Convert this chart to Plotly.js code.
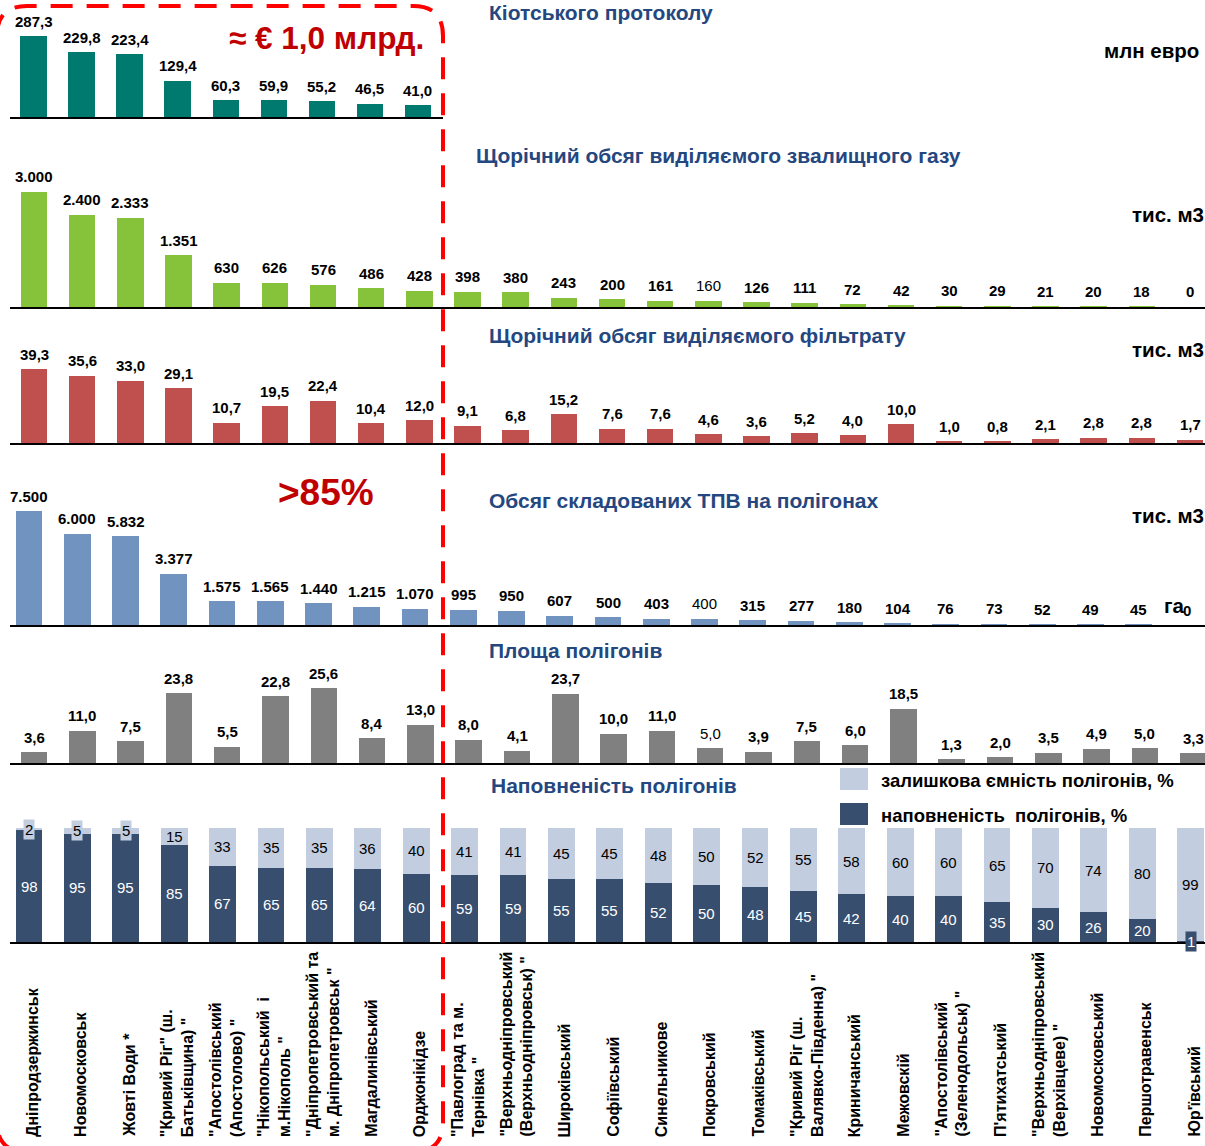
<!DOCTYPE html>
<html><head><meta charset="utf-8">
<script src="https://cdn.plot.ly/plotly-3.0.1.min.js"></script>
<style>html,body{margin:0;padding:0;background:#fff}#chart{width:1205px;height:1146px}</style>
</head><body><div id="chart"></div>
<script>
// ---------- DATA ----------
const categories = [
  'Дніпродзержинськ', 'Новомосковськ', 'Жовті Води *',
  '"Кривий Ріг" (ш.<br>Батьківщина) "', '"Апостолівський<br>(Апостолово) "',
  '"Нікопольський  і<br>м.Нікополь "', '"Дніпропетровський та<br>м. Дніпропетровськ "',
  'Магдалинівський', 'Орджонікідзе', '"Павлоград та м.<br>Тернівка "',
  '"Верхньодніпровський<br>(Верхньодніпровськ) "', 'Широківський', 'Софіївський',
  'Синельникове', 'Покровський', 'Томаківський', '"Кривий Ріг (ш.<br>Валявко-Південна) "',
  'Криничанський', 'Межовскій', '"Апостолівський<br>(Зеленодольськ) "', "П'ятихатський",
  '"Верхньодніпровський<br>(Верхівцеве) "', 'Новомосковський', 'Першотравенськ', "Юр'ївський"
];
const kyotoValues = [287.3, 229.8, 223.4, 129.4, 60.3, 59.9, 55.2, 46.5, 41.0];
const gasValues = [3000, 2400, 2333, 1351, 630, 626, 576, 486, 428, 398, 380, 243, 200, 161, 160, 126, 111, 72, 42, 30, 29, 21, 20, 18, 0];
const leachateValues = [39.3, 35.6, 33.0, 29.1, 10.7, 19.5, 22.4, 10.4, 12.0, 9.1, 6.8, 15.2, 7.6, 7.6, 4.6, 3.6, 5.2, 4.0, 10.0, 1.0, 0.8, 2.1, 2.8, 2.8, 1.7];
const wasteValues = [7500, 6000, 5832, 3377, 1575, 1565, 1440, 1215, 1070, 995, 950, 607, 500, 403, 400, 315, 277, 180, 104, 76, 73, 52, 49, 45, 0];
const areaValues = [3.6, 11.0, 7.5, 23.8, 5.5, 22.8, 25.6, 8.4, 13.0, 8.0, 4.1, 23.7, 10.0, 11.0, 5.0, 3.9, 7.5, 6.0, 18.5, 1.3, 2.0, 3.5, 4.9, 5.0, 3.3];
const filledPct = [98, 95, 95, 85, 67, 65, 65, 64, 60, 59, 59, 55, 55, 52, 50, 48, 45, 42, 40, 40, 35, 30, 26, 20, 1];
const remainingPct = [2, 5, 5, 15, 33, 35, 35, 36, 40, 41, 41, 45, 45, 48, 50, 52, 55, 58, 60, 60, 65, 70, 74, 80, 99];
const panelTitles = ['Кіотського протоколу', 'Щорічний обсяг виділяємого звалищного газу',
  'Щорічний обсяг виділяємого фільтрату', 'Обсяг складованих ТПВ на полігонах',
  'Площа полігонів', 'Наповненість полігонів'];
const unitLabels = ['млн евро', 'тис. м3', 'тис. м3', 'тис. м3', 'га'];
const seriesRemaining = 'залишкова ємність полігонів, %';
const seriesFilled = 'наповненість  полігонів, %';
const calloutMoney = '≈ € 1,0 млрд.';
const calloutShare = '>85%';

// ---------- LAYOUT HELPERS ----------
const W = 1205, H = 1146;
const px = x => x / W, py = y => 1 - y / H;
const FONT = '"Liberation Sans", Arial, sans-serif';
const fmtDec = v => v.toFixed(1).replace('.', ',');
const fmtTh = v => String(Math.round(v)).replace(/\B(?=(\d{3})+(?!\d))/g, '.');

const panels = [
  {vals: kyotoValues, color: '#007A6E', fmt: fmtDec, base: 117, refTop: 36, top: 8, c0: 33.5, s: 48.06, x0: 10, x1: 443, regular: []},
  {vals: gasValues, color: '#86C23A', fmt: fmtTh, base: 307, refTop: 192, top: 140, c0: 34, s: 48.17, x0: 10, x1: 1205, regular: [14]},
  {vals: leachateValues, color: '#C0504D', fmt: fmtDec, base: 443, refTop: 369, top: 320, c0: 34, s: 48.17, x0: 10, x1: 1205, regular: []},
  {vals: wasteValues, color: '#7093C0', fmt: fmtTh, base: 625, refTop: 511, top: 470, c0: 29, s: 48.25, x0: 10, x1: 1205, regular: [14]},
  {vals: areaValues, color: '#808080', fmt: fmtDec, base: 763, refTop: 688, top: 640, c0: 34, s: 48.3, x0: 10, x1: 1205, regular: [14]},
];
const pct = {base: 942, refTop: 828, top: 770, c0: 29, s: 48.4, x0: 10, x1: 1205};

const data = [];
const annotations = [];
const layout = {
  width: W, height: H, margin: {l: 0, r: 0, t: 0, b: 0},
  paper_bgcolor: '#fff', plot_bgcolor: 'rgba(0,0,0,0)',
  bargap: 0.45, barmode: 'stack', showlegend: false,
  font: {family: FONT, color: '#000'},
  annotations: annotations, shapes: []
};

function axisPair(k, p, maxVal) {
  const xn = k === 1 ? 'xaxis' : 'xaxis' + k;
  const yn = k === 1 ? 'yaxis' : 'yaxis' + k;
  layout[xn] = {
    type: 'category', domain: [px(p.x0), px(p.x1)],
    range: [(p.x0 - p.c0) / p.s, (p.x1 - p.c0) / p.s],
    anchor: k === 1 ? 'y' : 'y' + k,
    showline: true, linecolor: '#000', linewidth: 2, ticks: '',
    showticklabels: false, showgrid: false, zeroline: false, fixedrange: true
  };
  layout[yn] = {
    domain: [py(p.base), py(p.top)],
    range: [0, maxVal * (p.base - p.top) / (p.base - p.refTop)],
    anchor: k === 1 ? 'x' : 'x' + k,
    visible: false, showgrid: false, zeroline: false, fixedrange: true
  };
}

panels.forEach((p, j) => {
  const k = j + 1;
  const maxVal = Math.max(...p.vals);
  axisPair(k, p, maxVal);
  const xs = categories.slice(0, p.vals.length);
  data.push({
    type: 'bar', x: xs, y: p.vals, name: panelTitles[j],
    xaxis: k === 1 ? 'x' : 'x' + k, yaxis: k === 1 ? 'y' : 'y' + k,
    marker: {color: p.color}, hoverinfo: 'x+y'
  });
  p.vals.forEach((v, i) => {
    const t = p.fmt(v);
    annotations.push({
      xref: k === 1 ? 'x' : 'x' + k, yref: k === 1 ? 'y' : 'y' + k,
      x: xs[i], y: v, text: p.regular.includes(i) ? t : '<b>' + t + '</b>',
      showarrow: false, yanchor: 'middle', yshift: 15,
      font: {size: 15, color: '#000', family: FONT}
    });
  });
});

// Percentage panel
axisPair(6, pct, 100);
data.push({
  type: 'bar', x: categories, y: filledPct, name: seriesFilled,
  xaxis: 'x6', yaxis: 'y6', marker: {color: '#374E6F'}, hoverinfo: 'x+y'
});
data.push({
  type: 'bar', x: categories, y: remainingPct, name: seriesRemaining,
  xaxis: 'x6', yaxis: 'y6', marker: {color: '#C3CDE0'}, hoverinfo: 'x+y'
});
categories.forEach((c, i) => {
  const f = filledPct[i], r = remainingPct[i];
  annotations.push({
    xref: 'x6', yref: 'y6', x: c, y: f / 2, text: String(f), showarrow: false,
    yanchor: 'middle', font: {size: 15, color: '#fff', family: FONT},
    bgcolor: f < 10 ? '#374E6F' : 'rgba(0,0,0,0)', borderpad: 1
  });
  annotations.push({
    xref: 'x6', yref: 'y6', x: c, y: f + r / 2, text: String(r), showarrow: false,
    yanchor: 'middle', font: {size: 15, color: '#000', family: FONT},
    bgcolor: r < 10 ? '#C3CDE0' : 'rgba(0,0,0,0)', borderpad: 1
  });
  // category label (rotated)
  annotations.push({
    xref: 'x6', yref: 'paper', x: c, y: py(1139), xshift: 3,
    text: '<b>' + c + '</b>', textangle: -90, align: 'left',
    xanchor: 'center', yanchor: 'bottom', showarrow: false,
    font: {size: 16, color: '#000', family: FONT}
  });
});

// Titles & units
const titleColor = '#25477F';
const titlePos = [[487, 12], [474, 155], [487, 335], [487, 500], [487, 650], [489, 785]];
panelTitles.forEach((t, i) => {
  annotations.push({xref: 'paper', yref: 'paper', x: px(titlePos[i][0]), y: py(titlePos[i][1]),
    xanchor: 'left', yanchor: 'middle', showarrow: false, text: '<b>' + t + '</b>',
    font: {size: 21, color: titleColor, family: FONT}});
});
const unitPos = [[1201, 50, 'right'], [1206, 215, 'right'], [1206, 350, 'right'], [1206, 515, 'right'], [1162, 605, 'left']];
unitLabels.forEach((u, i) => {
  annotations.push({xref: 'paper', yref: 'paper', x: px(unitPos[i][0]), y: py(unitPos[i][1]),
    xanchor: unitPos[i][2], yanchor: 'middle', showarrow: false, text: '<b>' + u + '</b>',
    font: {size: 20.5, color: '#000', family: FONT}});
});

// Callouts
annotations.push({xref: 'paper', yref: 'paper', x: px(326), y: py(38), xanchor: 'center', yanchor: 'middle',
  showarrow: false, text: '<b>' + calloutMoney + '</b>', font: {size: 31.5, color: '#C00000', family: FONT}});
annotations.push({xref: 'paper', yref: 'paper', x: px(326), y: py(492), xanchor: 'center', yanchor: 'middle',
  showarrow: false, text: '<b>' + calloutShare + '</b>', font: {size: 37, color: '#C00000', family: FONT}});

// Legend
const legendItems = [[seriesRemaining, '#C3CDE0', 779], [seriesFilled, '#374E6F', 814]];
legendItems.forEach(([name, col, yc]) => {
  layout.shapes.push({type: 'rect', xref: 'paper', yref: 'paper', x0: px(840), x1: px(868),
    y0: py(yc - 11), y1: py(yc + 11), fillcolor: col, line: {width: 0}});
  annotations.push({xref: 'paper', yref: 'paper', x: px(879), y: py(yc + 1), xanchor: 'left', yanchor: 'middle',
    showarrow: false, text: '<b>' + name + '</b>', font: {size: 18.5, color: '#000', family: FONT}});
});

// Red dashed rounded frame
(function () {
  const L = -3, T = 6, R = 443, B = 1152, r = 30;
  const P = (x, y) => px(x).toFixed(5) + ',' + py(y).toFixed(5);
  const path = 'M ' + P(L, T + r) + ' Q ' + P(L, T) + ' ' + P(L + r, T) + ' L ' + P(R - r, T) +
    ' Q ' + P(R, T) + ' ' + P(R, T + r) + ' L ' + P(R, B - r) + ' Q ' + P(R, B) + ' ' + P(R - r, B) +
    ' L ' + P(L + r, B) + ' Q ' + P(L, B) + ' ' + P(L, B - r) + ' Z';
  layout.shapes.push({type: 'path', xref: 'paper', yref: 'paper', path: path,
    line: {color: '#FF0000', width: 4, dash: '22px,14px'}, layer: 'above'});
})();

Plotly.newPlot('chart', data, layout, {displayModeBar: false, staticPlot: true});
</script>
</body></html>
